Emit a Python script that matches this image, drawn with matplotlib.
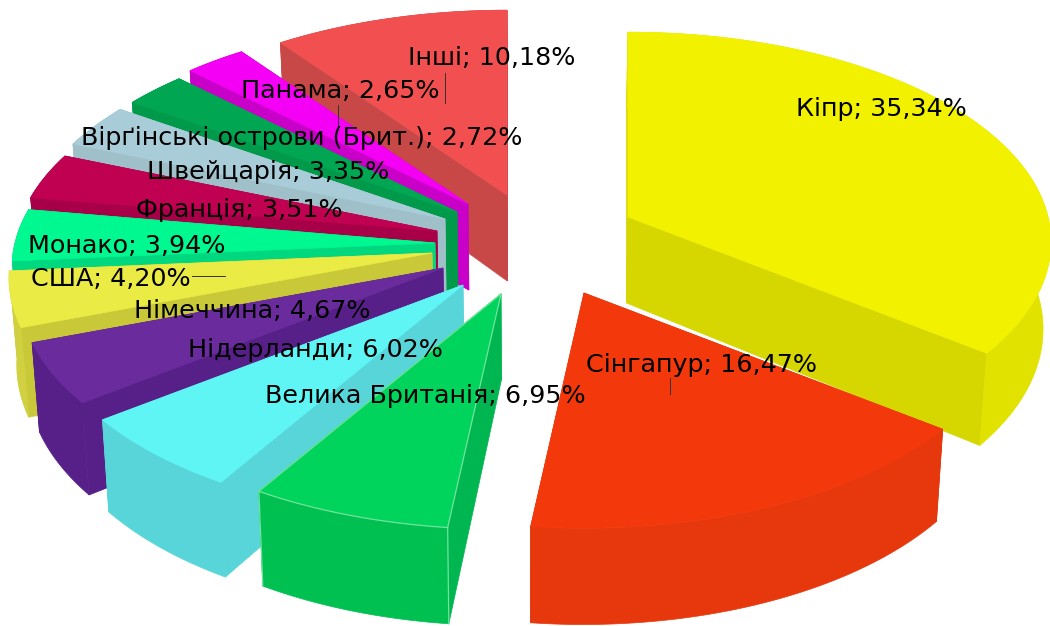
import numpy as np
import matplotlib
matplotlib.use("Agg")
import matplotlib.pyplot as plt

plt.rcParams['font.family'] = ['DejaVu Sans']

# --- data ---
countries = ["Кіпр", "Сінгапур", "Велика Британія", "Нідерланди", "Німеччина", "США",
             "Монако", "Франція", "Швейцарія", "Вірґінські острови (Брит.)", "Панама", "Інші"]
shares = [35.34, 16.47, 6.95, 6.02, 4.67, 4.20, 3.94, 3.51, 3.35, 2.72, 2.65, 10.18]

# --- style ---
top_colors = ["#f2f200", "#f3390c", "#00d45c", "#60f5f5", "#6a2c9c", "#ebeb45",
              "#00f890", "#c00050", "#a8ccd8", "#00a651", "#f400f4", "#f25050"]
cut_colors = ["#d6d600", "#df3a0e", "#00b650", "#58d5d8", "#572088", "#c8c838",
              "#00d880", "#a80048", "#9fc0c8", "#009a4a", "#c800c8", "#c84848"]
outer_colors = ["#e2e200", "#e6380c", "#00c052", "#58d5d8", "#572088", "#d0d040",
                "#00d880", "#a80048", "#9fc0c8", "#009a4a", "#c800c8", "#c84848"]
edge_colors = [None, None, "#70e49a", None, None, None, None, None, None, None, None, None]
explode_x = [178, 134, 51, 13, -7, -18, -15, -13, -5, 7, 18, 57]
explode_y = [-33, 43, 44, 35, 18, 3, -7, -19, -31, -38, -46, -55]
label_x = [881, 701, 425, 315, 252, 111, 127, 239, 268, 302, 340, 492]
label_y = [109, 365, 396, 350, 311, 279, 246, 210, 172, 138, 91, 58]
leaders = {"Інші": ((445, 445), (73, 103)), "Вірґінські острови (Брит.)": ((338, 338), (105, 130)),
           "США": ((192, 225), (276, 276)), "Сінгапур": ((670, 670), (378, 394))}
CX, CY = 450, 250
RX, RY, DEPTH, PERSP = 420, 210, 86, 0.12
VANISH_X, VANISH_K = 525, 0.015
FONT_SIZE = 18.3
draw_order = [11, 10, 9, 8, 7, 6, 5, 4, 3, 2, 0, 1]

fig = plt.figure(figsize=(10.5, 6.26), dpi=100)
ax = fig.add_axes([0, 0, 1, 1])
ax.set_xlim(0, 1050)
ax.set_ylim(626, 0)
ax.axis("off")

cum = np.cumsum([0] + shares)
start_deg = 90 - 3.6 * cum[:-1]
end_deg = 90 - 3.6 * cum[1:]


def rim(ax0, ay0, theta):
    """Project a rim point at angle theta (radians) for a slice with apex (ax0, ay0)."""
    s = 1 - PERSP * np.sin(theta)
    return ax0 + RX * s * np.cos(theta), ay0 - RY * s * np.sin(theta), DEPTH * s


def lower(x):
    """Horizontal position of the lower rim under a top-rim position."""
    return x + (VANISH_X - x) * VANISH_K


for i in draw_order:
    apex_x = CX + explode_x[i]
    apex_y = CY + explode_y[i]
    th = np.radians(np.linspace(start_deg[i], end_deg[i], 80))
    x, y, h = rim(apex_x, apex_y, th)
    xb = lower(x)
    yb = y + h

    # radial cut faces
    for k in (0, -1):
        ax.fill([apex_x, x[k], xb[k], lower(apex_x)], [apex_y, y[k], yb[k], apex_y + DEPTH],
                facecolor=cut_colors[i], edgecolor=cut_colors[i], linewidth=0.5)
    # outer wall
    ax.fill(np.r_[x, xb[::-1]], np.r_[y, yb[::-1]], facecolor=outer_colors[i],
            edgecolor=outer_colors[i], linewidth=0.5)
    # top face
    ax.fill(np.r_[apex_x, x], np.r_[apex_y, y], facecolor=top_colors[i],
            edgecolor=top_colors[i], linewidth=0.5)
    if edge_colors[i]:
        ax.plot(x, y, color=edge_colors[i], lw=0.9)
        ax.plot([apex_x, x[0], xb[0]], [apex_y, y[0], yb[0]], color=edge_colors[i], lw=0.9)
        ax.plot([x[-1], xb[-1]], [y[-1], yb[-1]], color=edge_colors[i], lw=0.9)
        ax.plot([apex_x, x[-1]], [apex_y, y[-1]], color=edge_colors[i], lw=0.9)

for name, val, lx, ly in zip(countries, shares, label_x, label_y):
    txt = f"{name}; " + f"{val:.2f}%".replace(".", ",")
    ax.text(lx, ly, txt, fontsize=FONT_SIZE, color="black", ha="center", va="center", zorder=10)
    if name in leaders:
        ax.plot(*leaders[name], color="#333333", lw=0.7, zorder=9)

fig.savefig("out.png", dpi=100, facecolor="white")
